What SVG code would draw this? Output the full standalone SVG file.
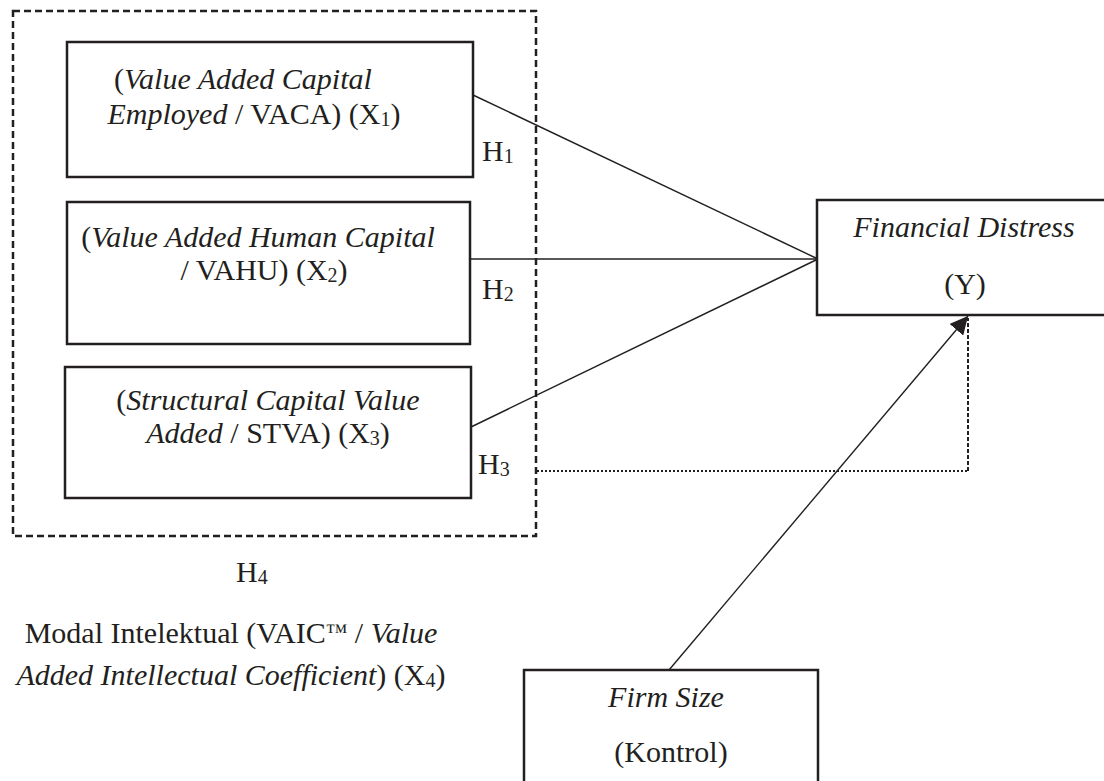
<svg xmlns="http://www.w3.org/2000/svg" width="1104" height="781" viewBox="0 0 1104 781">
<style>
text{font-family:"Liberation Serif","Times New Roman",serif;font-size:30px;fill:#231f20}
.c{text-anchor:middle}
.i{font-style:italic}
.s{font-size:20px}
.tm{font-size:22px}
.box{fill:#fff;stroke:#231f20;stroke-width:2.5}
.ln{fill:none;stroke:#231f20;stroke-width:1.4}
</style>
<defs>
<marker id="ah" viewBox="0 0 10 10" refX="10" refY="5" markerWidth="18" markerHeight="18" markerUnits="userSpaceOnUse" orient="auto">
<path d="M0,0 L10,5 L0,10 z" fill="#231f20"/>
</marker>
</defs>
<rect width="1104" height="781" fill="#fff"/>
<g id="group-x4">
<rect x="13" y="11" width="523" height="525" fill="none" stroke="#231f20" stroke-width="2.5" stroke-dasharray="7 4"/>
</g>
<g id="connectors">
<path class="ln" d="M473,95 L818,259"/>
<path class="ln" d="M470,259 L818,259"/>
<path class="ln" d="M471,427 L818,259"/>
<path class="ln" d="M669,670 L968,316" marker-end="url(#ah)"/>
<path fill="none" stroke="#231f20" stroke-width="2" stroke-dasharray="2 2" d="M537,471 L968,471"/>
<path fill="none" stroke="#231f20" stroke-width="2" stroke-dasharray="4 2" d="M968,471 L968,318"/>
</g>
<g id="node-x1">
<rect class="box" x="67" y="42" width="406" height="135"/>
<text class="c" x="243" y="89">(<tspan class="i">Value Added Capital</tspan></text>
<text class="c" x="254" y="124"><tspan class="i">Employed</tspan> / VACA) (X<tspan class="s" dy="2">1</tspan><tspan dy="-2">)</tspan></text>
</g>
<g id="node-x2">
<rect class="box" x="67" y="202" width="403" height="142"/>
<text class="c" x="258" y="247">(<tspan class="i">Value Added Human Capital</tspan></text>
<text class="c" x="264" y="280">/ VAHU) (X<tspan class="s" dy="2">2</tspan><tspan dy="-2">)</tspan></text>
</g>
<g id="node-x3">
<rect class="box" x="65" y="367" width="406" height="131"/>
<text class="c" x="268" y="410">(<tspan class="i">Structural Capital Value</tspan></text>
<text class="c" x="268" y="443"><tspan class="i">Added</tspan> / STVA) (X<tspan class="s" dy="2">3</tspan><tspan dy="-2">)</tspan></text>
</g>
<g id="labels">
<text x="482" y="161">H<tspan class="s" dy="2">1</tspan></text>
<text x="482" y="299">H<tspan class="s" dy="2">2</tspan></text>
<text x="478" y="474">H<tspan class="s" dy="2">3</tspan></text>
<text x="236" y="582">H<tspan class="s" dy="2">4</tspan></text>
<text class="c" x="231" y="643">Modal Intelektual (VAIC<tspan class="tm" dy="-4">™</tspan><tspan dy="4"> / </tspan><tspan class="i">Value</tspan></text>
<text class="c" x="231" y="685"><tspan class="i">Added Intellectual Coefficient</tspan>) (X<tspan class="s" dy="2">4</tspan><tspan dy="-2">)</tspan></text>
</g>
<g id="node-y">
<rect class="box" x="817" y="200" width="300" height="115"/>
<text class="c i" x="964" y="237">Financial Distress</text>
<text class="c" x="965" y="294">(Y)</text>
</g>
<g id="node-control">
<rect class="box" x="524" y="670" width="294" height="130"/>
<text class="c i" x="666" y="707">Firm Size</text>
<text class="c" x="671" y="762">(Kontrol)</text>
</g>
</svg>
